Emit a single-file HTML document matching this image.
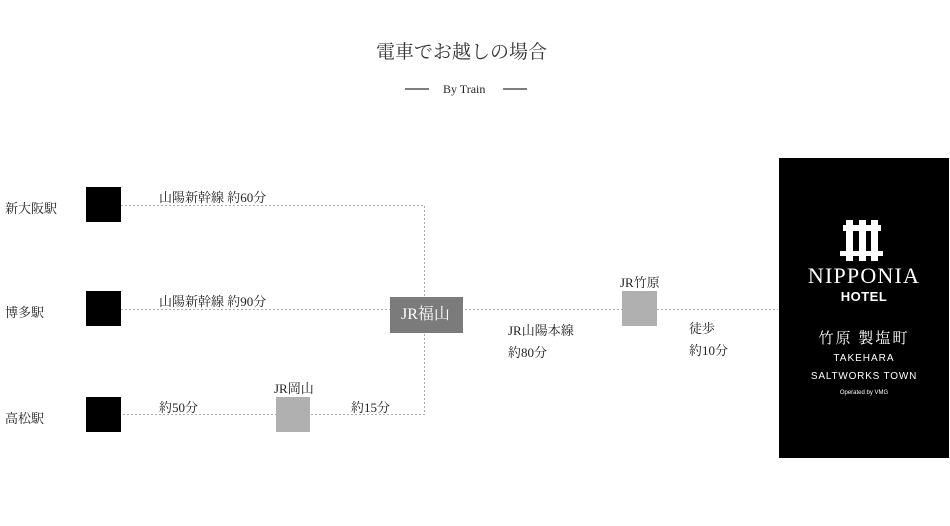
<!DOCTYPE html>
<html><head><meta charset="utf-8"><style>
body{margin:0;width:950px;height:526px;background:#fff;position:relative;overflow:hidden;font-family:"Liberation Serif","Noto Serif CJK JP",serif;color:#222}
.t{position:absolute;white-space:nowrap;font-size:13px;line-height:1}
.b{position:absolute}
.s{font-family:"Liberation Sans","Noto Sans CJK JP",sans-serif}
</style></head><body>
<svg class="b" style="left:0;top:0" width="950" height="526">
<g stroke="#aaa" stroke-width="1" stroke-dasharray="2,2" fill="none">
<path d="M121 205.5H424.5V414.5H121"/>
<path d="M121 309.5H778"/>
</g>
<g stroke="#333" stroke-width="1.2"><line x1="405" y1="89" x2="429" y2="89"/><line x1="503" y1="89" x2="527" y2="89"/></g>
<rect x="86" y="187" width="35" height="35" fill="#000"/>
<rect x="86" y="291" width="35" height="35" fill="#000"/>
<rect x="86" y="397" width="35" height="35" fill="#000"/>
<rect x="276" y="397" width="34" height="35" fill="#b0b0b0"/>
<rect x="622" y="291" width="35" height="35" fill="#b0b0b0"/>
<rect x="390" y="297" width="73" height="36" fill="#7b7b7b"/>
<rect x="779" y="158" width="170" height="300" fill="#000"/>
<g fill="#fff">
<rect x="846" y="220" width="7" height="41"/><rect x="859" y="220" width="7" height="41"/><rect x="871" y="220" width="7" height="41"/>
<rect x="843" y="225" width="38" height="6"/><rect x="840" y="251" width="43" height="5"/>
</g>
</svg>
<div class="t" style="left:376px;top:43px;font-size:19px;color:#333">電車でお越しの場合</div>
<div class="t" style="left:443px;top:83px;font-size:12px">By Train</div>
<div class="t" style="left:5px;top:202px">新大阪駅</div>
<div class="t" style="left:5px;top:306px">博多駅</div>
<div class="t" style="left:5px;top:412px">高松駅</div>
<div class="t" style="left:159px;top:191px">山陽新幹線 約60分</div>
<div class="t" style="left:159px;top:295px">山陽新幹線 約90分</div>
<div class="t" style="left:159px;top:401px">約50分</div>
<div class="t" style="left:351px;top:401px">約15分</div>
<div class="t" style="left:274px;top:382px">JR岡山</div>
<div class="t" style="left:620px;top:276px">JR竹原</div>
<div class="t" style="left:401px;top:307px;font-size:16px;color:#fff">JR福山</div>
<div class="t" style="left:508px;top:324px">JR山陽本線</div>
<div class="t" style="left:508px;top:346px">約80分</div>
<div class="t" style="left:689px;top:322px">徒歩</div>
<div class="t" style="left:689px;top:344px">約10分</div>
<div class="t" style="left:779px;width:170px;text-align:center;top:265px;font-size:22px;color:#fff;letter-spacing:1.2px">NIPPONIA</div>
<div class="t s" style="left:779px;width:170px;text-align:center;top:290px;font-size:13px;font-weight:bold;color:#fff;letter-spacing:0.5px">HOTEL</div>
<div class="t" style="left:779px;width:170px;text-align:center;top:332px;font-size:15px;color:#fff;letter-spacing:2px">竹原 製塩町</div>
<div class="t s" style="left:779px;width:170px;text-align:center;top:354px;font-size:10px;color:#fff;letter-spacing:1px">TAKEHARA</div>
<div class="t s" style="left:779px;width:170px;text-align:center;top:372px;font-size:10px;color:#fff;letter-spacing:0.8px">SALTWORKS TOWN</div>
<div class="t s" style="left:779px;width:170px;text-align:center;top:390px;font-size:6px;color:#fff">Operated by VMG</div>
</body></html>
